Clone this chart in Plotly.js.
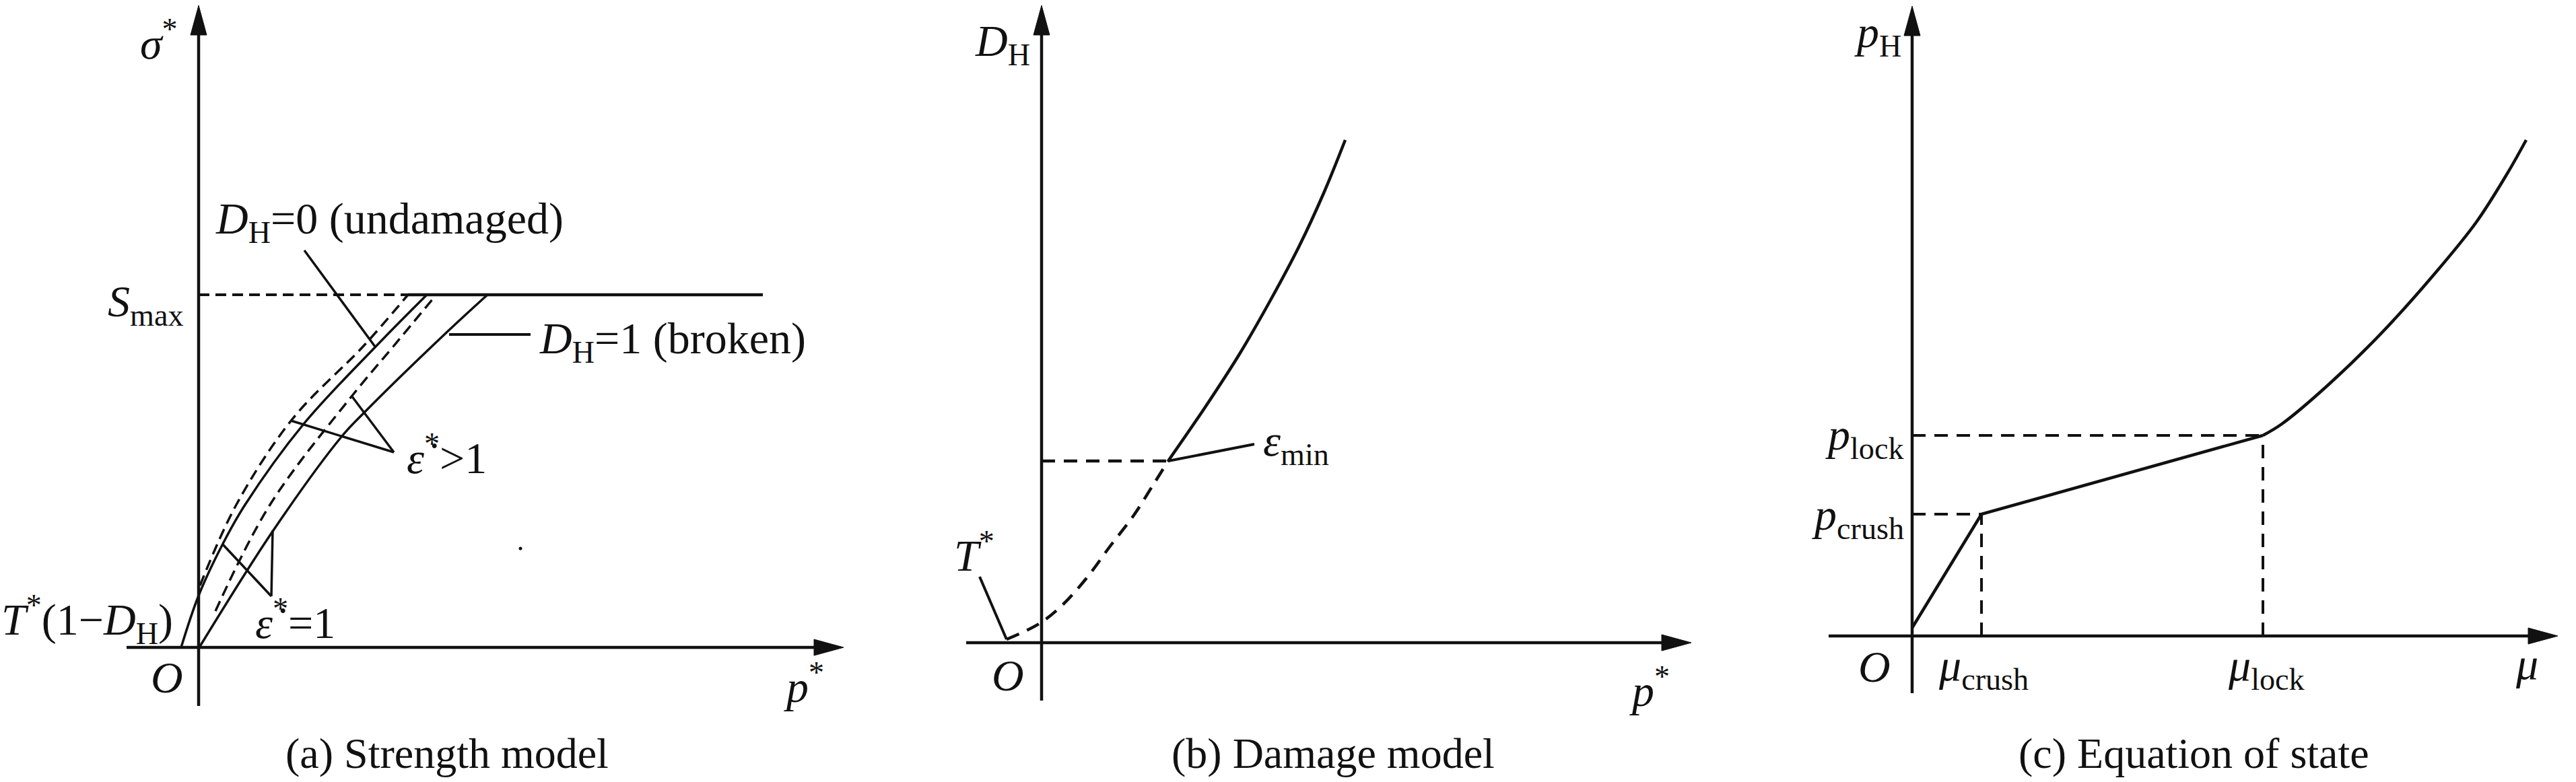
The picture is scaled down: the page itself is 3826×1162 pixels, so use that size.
<!DOCTYPE html>
<html><head><meta charset="utf-8">
<script src="https://cdn.plot.ly/plotly-3.0.1.min.js"></script>
<style>html,body{margin:0;padding:0;background:#fff;overflow:hidden}</style>
</head><body><div id="chart" style="width:3826px;height:1162px"></div>
<script>
// ---------- Panel (a) Strength model : p* vs sigma* ----------
const aUndamagedP   = [-0.26, 0.00, 0.36, 0.69, 1.56, 2.63, 3.39];   // D_H=0, strain-rate = 1 (solid)
const aUndamagedS   = [0.00, 0.77, 1.54, 2.12, 3.32, 4.47, 5.24];
const aUndamagedHiP = [0.02, 0.56, 1.39, 2.46, 3.11];                // D_H=0, strain-rate > 1 (dashed)
const aUndamagedHiS = [0.92, 2.12, 3.39, 4.49, 5.24];
const aBrokenHiP    = [0.25, 1.06, 2.28, 2.89, 3.53];                // D_H=1, strain-rate > 1 (dashed)
const aBrokenHiS    = [0.54, 2.12, 3.74, 4.47, 5.24];
const aBrokenP      = [0.01, 1.11, 2.13, 2.46, 3.64, 4.29];          // D_H=1, strain-rate = 1 (solid)
const aBrokenS      = [0.00, 1.74, 3.14, 3.49, 4.64, 5.24];
const aSmax = 5.24;
const aSmaxP = [0, 3.11, 8.38];     // dashed to curve, then solid plateau
const aAxisP = [-1.07, 9.58];
const aAxisS = [-0.87, 9.54];

// ---------- Panel (b) Damage model : p* vs D_H ----------
const bDamageP = [1.88, 2.43, 2.94, 3.40, 3.82, 4.19, 4.51];
const bDamageD = [2.70, 3.50, 4.29, 5.09, 5.88, 6.68, 7.47];
const bLowP    = [-0.52, -0.04, 0.30, 0.66, 1.03, 1.36, 1.66, 1.88];
const bLowD    = [0.05, 0.28, 0.55, 0.95, 1.45, 1.88, 2.35, 2.70];
const bAxisP = [-1.12, 9.65];
const bAxisD = [-0.86, 9.47];

// ---------- Panel (c) Equation of state : mu vs p_H ----------
const cMu = [0.00, 1.03, 5.21, 5.49, 6.19, 6.97, 7.75, 8.38, 8.85, 9.12];
const cP  = [0.12, 1.81, 2.98, 3.15, 3.74, 4.50, 5.37, 6.15, 6.89, 7.37];
const cCrushIdx = 1, cLockIdx = 2;
const cAxisMu = [-1.24, 9.59];
const cAxisP  = [-0.85, 9.36];

// ---------- Labels ----------
const captions = ['(a) Strength model', '(b) Damage model', '(c) Equation of state'];

// ---------- Layout geometry (pixels) ----------
const W = 3826, H = 1162, U = 100;   // 100 px per chart unit
const panels = [
  {ox: 295,  oy: 962, x0: 0,    x1: 1300},
  {ox: 1547, oy: 955, x0: 1300, x1: 2600},
  {ox: 2840, oy: 945, x0: 2600, x1: W}
];
const FONT = 'Liberation Serif, Times New Roman, serif';
const FS = 66, FC = 64;
const BLACK = '#111';

const layout = {
  width: W, height: H, margin: {l: 0, r: 0, t: 0, b: 0},
  paper_bgcolor: '#fff', plot_bgcolor: '#fff', showlegend: false,
  shapes: [], annotations: []
};
panels.forEach((p, i) => {
  const s = i === 0 ? '' : String(i + 1);
  layout['xaxis' + s] = {domain: [p.x0 / W, p.x1 / W], range: [(p.x0 - p.ox) / U, (p.x1 - p.ox) / U],
    visible: false, fixedrange: true, anchor: 'y' + s};
  layout['yaxis' + s] = {domain: [0, 1], range: [(p.oy - H) / U, p.oy / U],
    visible: false, fixedrange: true, anchor: 'x' + s};
});

function axisShapes(xr, yr, s) {
  const xref = 'x' + s, yref = 'y' + s;
  const L = 0.44, HW = 0.12, lw = 4.5;
  const out = [];
  out.push({type: 'line', xref, yref, x0: xr[0], x1: xr[1] - L + 0.02, y0: 0, y1: 0, line: {color: BLACK, width: lw}});
  out.push({type: 'line', xref, yref, x0: 0, x1: 0, y0: yr[0], y1: yr[1] - L + 0.02, line: {color: BLACK, width: lw}});
  out.push({type: 'path', xref, yref, path: `M${xr[1] - L},${-HW} L${xr[1]},0 L${xr[1] - L},${HW} Z`,
    fillcolor: BLACK, line: {color: BLACK, width: 1}});
  out.push({type: 'path', xref, yref, path: `M${-HW},${yr[1] - L} L0,${yr[1]} L${HW},${yr[1] - L} Z`,
    fillcolor: BLACK, line: {color: BLACK, width: 1}});
  return out;
}
function seg(s, x0, y0, x1, y1, w, dash) {
  return {type: 'line', xref: 'x' + s, yref: 'y' + s, x0, y0, x1, y1,
    line: {color: BLACK, width: w || 3.5, dash: dash || 'solid'}};
}
function txt(s, x, y, text, xa, ya, size) {
  return {xref: 'x' + s, yref: 'y' + s, x, y, text, showarrow: false,
    xanchor: xa || 'center', yanchor: ya || 'middle', borderpad: 0,
    font: {family: FONT, size: size || FS, color: BLACK}};
}

layout.shapes.push(...axisShapes(aAxisP, aAxisS, ''));
layout.shapes.push(...axisShapes(bAxisP, bAxisD, '2'));
layout.shapes.push(...axisShapes(cAxisMu, cAxisP, '3'));

// panel a leaders
layout.shapes.push(seg('', 1.57, 5.90, 2.62, 4.47, 3.5));
layout.shapes.push(seg('', 3.72, 4.65, 4.93, 4.65, 4));
layout.shapes.push(seg('', 1.37, 3.37, 2.90, 2.90, 3.5));
layout.shapes.push(seg('', 2.27, 3.74, 2.90, 2.90, 3.5));
layout.shapes.push(seg('', 0.35, 1.54, 1.08, 0.76, 3.5));
layout.shapes.push(seg('', 1.10, 1.74, 1.08, 0.76, 3.5));
// panel b leaders
layout.shapes.push(seg('2', 1.88, 2.70, 3.16, 2.95, 4));
layout.shapes.push(seg('2', -0.92, 0.98, -0.52, 0.05, 4));

const dashA = '16px,9px', dashB = '20px,13px';
const traces = [];
function line(x, y, s, w, dash, shape) {
  traces.push({type: 'scatter', mode: 'lines', x, y, xaxis: 'x' + s, yaxis: 'y' + s,
    hoverinfo: 'skip', line: {color: BLACK, width: w, dash: dash || 'solid', shape: shape || 'linear', smoothing: 1}});
}
// panel a
line(aUndamagedP, aUndamagedS, '', 3.5, 'solid', 'spline');
line(aUndamagedHiP, aUndamagedHiS, '', 3.5, dashA, 'spline');
line(aBrokenHiP, aBrokenHiS, '', 3.5, dashA, 'spline');
line(aBrokenP, aBrokenS, '', 3.5, 'solid', 'spline');
line(aSmaxP.slice(0, 2), [aSmax, aSmax], '', 4, dashA);
line(aSmaxP.slice(1), [aSmax, aSmax], '', 4.5);
traces.push({type: 'scatter', mode: 'markers', x: [4.78], y: [1.47], xaxis: 'x', yaxis: 'y',
  hoverinfo: 'skip', marker: {color: BLACK, size: 5}});
// panel b
line(bDamageP, bDamageD, '2', 4.5, 'solid', 'spline');
line(bLowP, bLowD, '2', 4.5, dashB, 'spline');
line([0, bDamageP[0]], [bDamageD[0], bDamageD[0]], '2', 4.5, dashB);
// panel c
line(cMu.slice(0, cLockIdx + 1), cP.slice(0, cLockIdx + 1), '3', 4.5);
line(cMu.slice(cLockIdx), cP.slice(cLockIdx), '3', 4.5, 'solid', 'spline');
line([0, cMu[cCrushIdx]], [cP[cCrushIdx], cP[cCrushIdx]], '3', 4, dashB);
line([cMu[cCrushIdx], cMu[cCrushIdx]], [0, cP[cCrushIdx]], '3', 4, dashB);
line([0, cMu[cLockIdx]], [cP[cLockIdx], cP[cLockIdx]], '3', 4, dashB);
line([cMu[cLockIdx], cMu[cLockIdx]], [0, cP[cLockIdx]], '3', 4, dashB);

// ---------- text ----------
const A = layout.annotations;
// panel a
A.push(txt('', -0.30, 9.03, '<i>σ</i><sup>*</sup>', 'right'));
A.push(txt('', -0.21, 5.10, '<i>S</i><sub>max</sub>', 'right'));
A.push(txt('', -0.37, 0.42, '<i>T</i><sup>*</sup>(1−<i>D</i><sub>H</sub>)', 'right'));
A.push(txt('', -0.47, -0.44, '<i>O</i>'));
A.push(txt('', 8.99, -0.53, '<i>p</i><sup>*</sup>'));
A.push(txt('', 0.24, 6.33, '<i>D</i><sub>H</sub>=0 (undamaged)', 'left'));
A.push(txt('', 5.05, 4.55, '<i>D</i><sub>H</sub>=1 (broken)', 'left'));
A.push(txt('', 3.08, 2.87, '<i>ε\u0307</i><sup>*</sup>&gt;1', 'left'));
A.push(txt('', 0.83, 0.42, '<i>ε\u0307</i><sup>*</sup>=1', 'left'));
A.push(txt('', 3.69, -1.57, captions[0], 'center', 'middle', FC));
// panel b
A.push(txt('2', -0.16, 8.90, '<i>D</i><sub>H</sub>', 'right'));
A.push(txt('2', 3.28, 2.96, '<i>ε</i><sub>min</sub>', 'left'));
A.push(txt('2', -1.00, 1.35, '<i>T</i><sup>*</sup>'));
A.push(txt('2', -0.50, -0.48, '<i>O</i>'));
A.push(txt('2', 9.03, -0.66, '<i>p</i><sup>*</sup>'));
A.push(txt('2', 4.33, -1.64, captions[1], 'center', 'middle', FC));
// panel c
A.push(txt('3', -0.15, 8.93, '<i>p</i><sub>H</sub>', 'right'));
A.push(txt('3', -0.11, 2.95, '<i>p</i><sub>lock</sub>', 'right'));
A.push(txt('3', -0.11, 1.76, '<i>p</i><sub>crush</sub>', 'right'));
A.push(txt('3', -0.56, -0.45, '<i>O</i>'));
A.push(txt('3', 1.06, -0.48, '<i>μ</i><sub>crush</sub>'));
A.push(txt('3', 5.26, -0.48, '<i>μ</i><sub>lock</sub>'));
A.push(txt('3', 9.13, -0.41, '<i>μ</i>'));
A.push(txt('3', 4.18, -1.74, captions[2], 'center', 'middle', FC));

Plotly.newPlot('chart', traces, layout, {staticPlot: true, displayModeBar: false});
</script></body></html>
